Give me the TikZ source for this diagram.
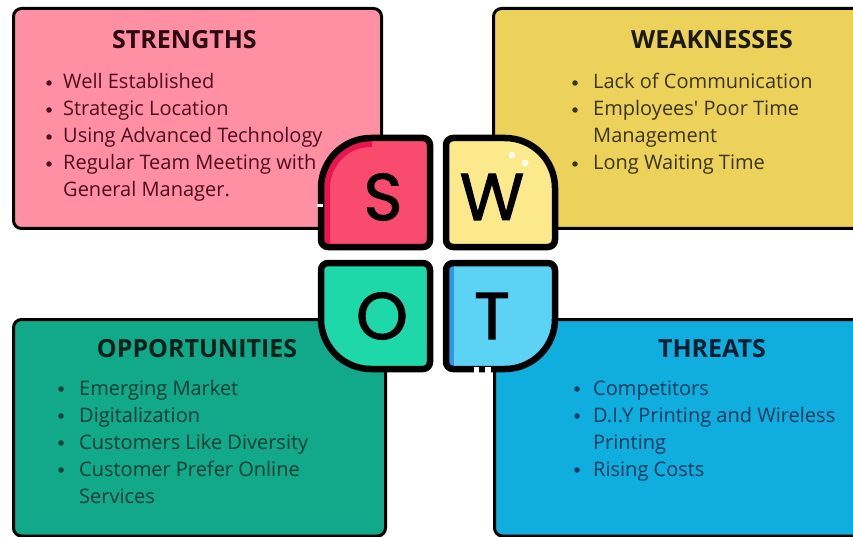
\documentclass[tikz,border=0pt]{standalone}
\usepackage{fontspec}
\setmainfont{Open Sans}[Ligatures=TeXOff]
\newfontfamily\tilefont[FakeBold=1.6]{Poppins}
\definecolor{spink}{HTML}{FF8FA3}
\definecolor{wyel}{HTML}{ECD25A}
\definecolor{oteal}{HTML}{12A98A}
\definecolor{tblue}{HTML}{10AEDE}
\definecolor{stile}{HTML}{F94B6E}
\definecolor{stiledk}{HTML}{E81650}
\definecolor{wtile}{HTML}{FCE98C}
\definecolor{otile}{HTML}{1FD8AA}
\definecolor{ttile}{HTML}{5CD3F5}
\definecolor{ttiledk}{HTML}{3096E6}
\definecolor{stxt}{HTML}{4D0F1F}
\definecolor{shead}{HTML}{2B0A12}
\definecolor{wtxt}{HTML}{3B3418}
\definecolor{whead}{HTML}{1A1A10}
\definecolor{otxt}{HTML}{0B3D33}
\definecolor{ohead}{HTML}{06201A}
\definecolor{ttxt}{HTML}{0B3A5C}
\definecolor{thead}{HTML}{071E33}
\tikzset{
  box/.style={line width=3pt, draw=black, rounded corners=8pt},
  tile/.style={line width=6.5pt, draw=black, line join=round},
  head/.style={font=\fontsize{25}{29}\selectfont\bfseries, anchor=base, inner sep=0pt},
  txt/.style={font=\fontsize{20}{24}\selectfont, anchor=base west, inner sep=0pt},
  bul/.style={circle, inner sep=0pt, minimum size=5.5pt},
  letter/.style={font=\tilefont\fontsize{66}{70}\selectfont, inner sep=0pt, text=black}
}
\begin{document}
\begin{tikzpicture}[x=1pt,y=-1pt]
\useasboundingbox (0,0) rectangle (853,537);
\clip (0,0) rectangle (853,537);
\fill[white] (0,0) rectangle (853,537);
% boxes
\draw[box,fill=spink] (13.5,8.5) rectangle (381.5,228.5);
\draw[box,fill=wyel] (493.5,8.5) rectangle (870,228.5);
\draw[box,fill=oteal] (13.5,319.5) rectangle (385.5,536);
\draw[box,fill=tblue] (494.5,319.5) rectangle (870,536);
% strengths text
\node[head,text=shead] (sh) at (184.5,49) {STRENGTHS};
\node[bul,fill=stxt] (s1b) at (49,83) {};
\node[txt,text=stxt] (s1) at (63,89) {Well Established};
\node[bul,fill=stxt] (s2b) at (49,110) {};
\node[txt,text=stxt] (s2) at (63,116) {Strategic Location};
\node[bul,fill=stxt] (s3b) at (49,137) {};
\node[txt,text=stxt] (s3) at (63,143) {Using Advanced Technology};
\node[bul,fill=stxt] (s4b) at (49,164) {};
\node[txt,text=stxt] (s4) at (63,170) {Regular Team Meeting with};
\node[txt,text=stxt] (s5) at (63,197) {General Manager.};
% weaknesses text
\node[head,text=whead] (wh) at (712,49) {WEAKNESSES};
\node[bul,fill=wtxt] (w1b) at (575,83) {};
\node[txt,text=wtxt] (w1) at (593,89) {Lack of Communication};
\node[bul,fill=wtxt] (w2b) at (575,110) {};
\node[txt,text=wtxt] (w2) at (593,116) {Employees' Poor Time};
\node[txt,text=wtxt] (w3) at (593,143) {Management};
\node[bul,fill=wtxt] (w4b) at (575,164) {};
\node[txt,text=wtxt] (w4) at (593,170) {Long Waiting Time};
% opportunities text
\node[head,text=ohead] (oh) at (197,357) {OPPORTUNITIES};
\node[bul,fill=otxt] (o1b) at (61,389) {};
\node[txt,text=otxt] (o1) at (79,395) {Emerging Market};
\node[bul,fill=otxt] (o2b) at (61,416) {};
\node[txt,text=otxt] (o2) at (79,422) {Digitalization};
\node[bul,fill=otxt] (o3b) at (61,443) {};
\node[txt,text=otxt] (o3) at (79,449) {Customers Like Diversity};
\node[bul,fill=otxt] (o4b) at (61,470) {};
\node[txt,text=otxt] (o4) at (79,476) {Customer Prefer Online};
\node[txt,text=otxt] (o5) at (79,503) {Services};
% threats text
\node[head,text=thead] (th) at (712,357) {THREATS};
\node[bul,fill=ttxt] (t1b) at (577,389) {};
\node[txt,text=ttxt] (t1) at (593,395) {Competitors};
\node[bul,fill=ttxt] (t2b) at (577,416) {};
\node[txt,text=ttxt] (t2) at (593,422) {D.I.Y Printing and Wireless};
\node[txt,text=ttxt] (t3) at (593,449) {Printing};
\node[bul,fill=ttxt] (t4b) at (577,470) {};
\node[txt,text=ttxt] (t4) at (593,476) {Rising Costs};
% S tile
\def\Spath{(321,240) -- (321,188) arc[start angle=180,end angle=270,radius=50] -- (423,138) arc[start angle=270,end angle=360,radius=7] -- (430,240) arc[start angle=0,end angle=90,radius=7] -- (328,247) arc[start angle=90,end angle=180,radius=7] -- cycle}
\begin{scope}
\clip \Spath;
\fill[stile] (310,130) rectangle (440,260);
\draw[stiledk,line width=18pt] (321,250) -- (321,188) arc[start angle=180,end angle=270,radius=50] -- (372,138);
\end{scope}
\draw[tile] \Spath;
% W tile
\def\Wpath{(446,240) -- (446,145) arc[start angle=180,end angle=270,radius=7] -- (505,138) arc[start angle=270,end angle=360,radius=50] -- (555,240) arc[start angle=0,end angle=90,radius=7] -- (453,247) arc[start angle=90,end angle=180,radius=7] -- cycle}
\fill[wtile] \Wpath;
\draw[tile] \Wpath;
\fill[white,opacity=0.85] (512,155) circle[radius=3.5];
\fill[white,opacity=0.85] (525,163) circle[radius=3.5];
% O tile
\def\Opath{(321,270) arc[start angle=180,end angle=270,radius=7] -- (423,263) arc[start angle=270,end angle=360,radius=7] -- (430,362) arc[start angle=0,end angle=90,radius=7] -- (371,369) arc[start angle=90,end angle=180,radius=50] -- cycle}
\fill[otile] \Opath;
\draw[tile] \Opath;
% T tile
\def\Tpath{(446,270) arc[start angle=180,end angle=270,radius=7] -- (548,263) arc[start angle=270,end angle=360,radius=7] -- (555,319) arc[start angle=0,end angle=90,radius=50] -- (453,369) arc[start angle=90,end angle=180,radius=7] -- cycle}
\begin{scope}
\clip \Tpath;
\fill[ttile] (440,255) rectangle (560,375);
\draw[ttiledk,line width=16pt] (446,255) -- (446,375);
\end{scope}
\draw[tile] \Tpath;
% small breaks in outlines
\draw[white,line width=3pt] (317,205.5) -- (323,205.5);
\fill[white] (474,366.5) rectangle (478.5,373);
\fill[white] (484.5,366.5) rectangle (491,373);
% letters
\node[letter] (S) at (383,197) {S};
\node[letter] (W) at (492,197) {W};
\node[letter] (O) at (382,316) {O};
\node[letter] (T) at (492,316) {T};
\end{tikzpicture}
\end{document}
